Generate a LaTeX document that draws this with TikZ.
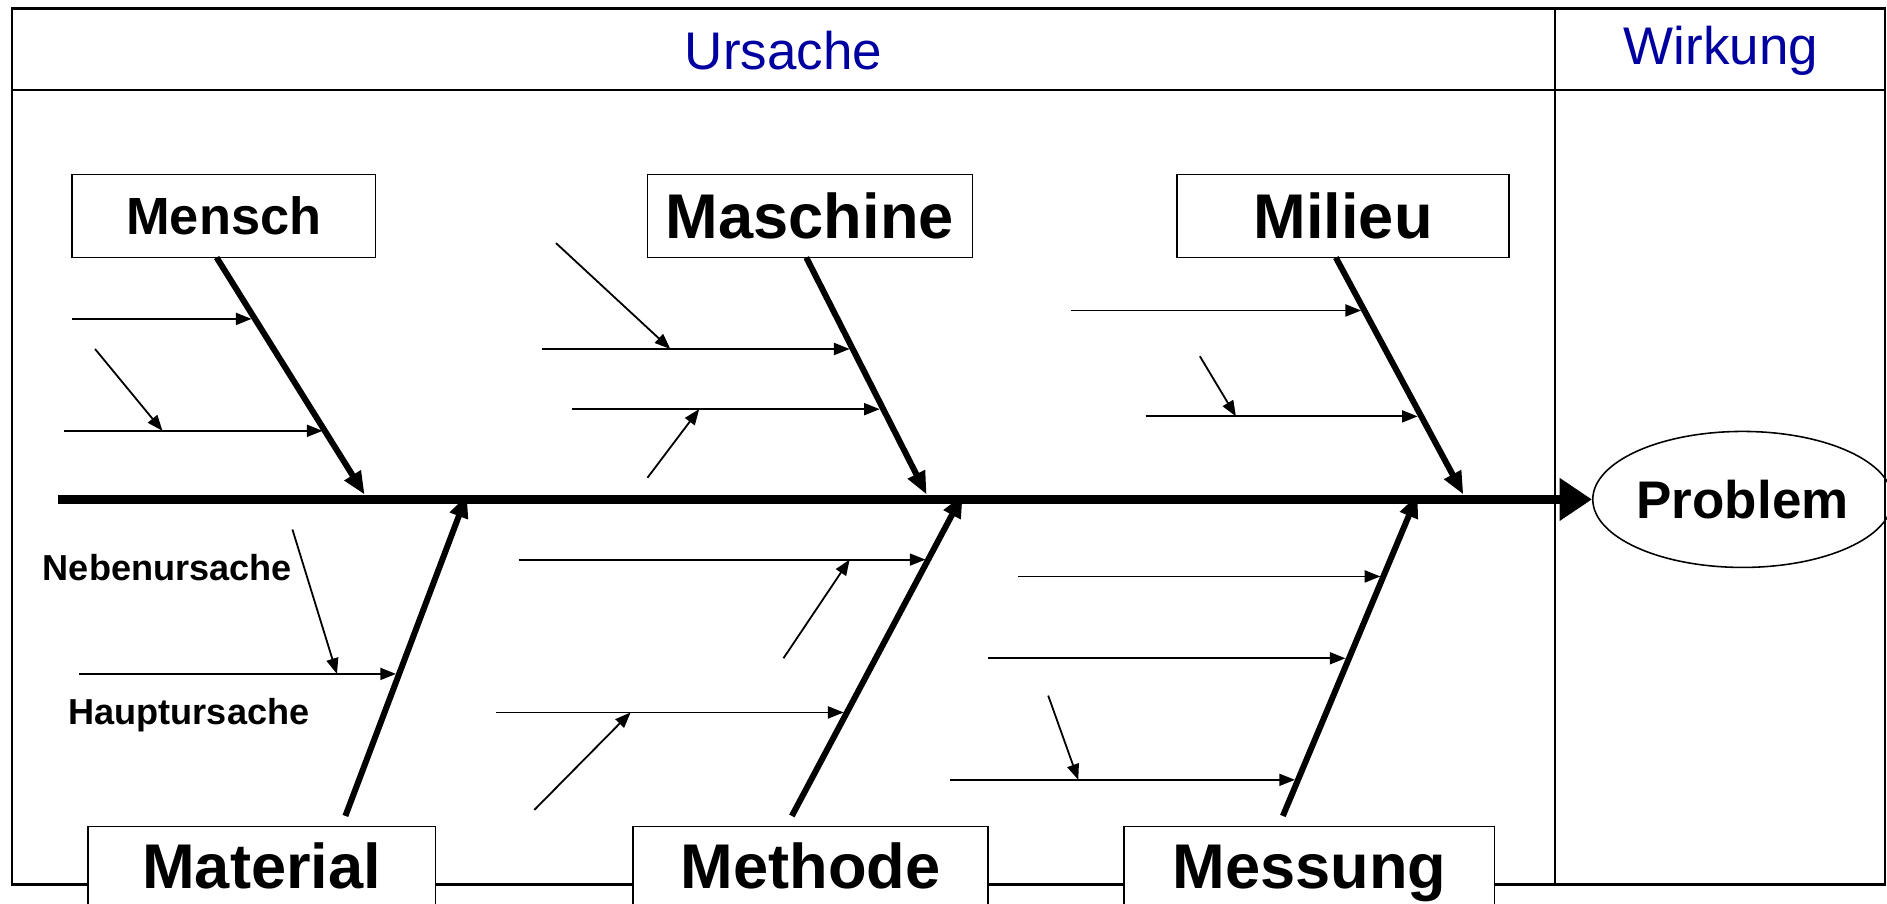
\documentclass[tikz,border=0pt]{standalone}
\usepackage{fontspec}
\setmainfont{Liberation Sans}
\usetikzlibrary{arrows.meta,shapes.geometric,calc}
\definecolor{ublue}{RGB}{0,0,160}
\begin{document}
\begin{tikzpicture}[x=1pt,y=-1pt,
  frame/.style={line width=1.8pt},
  topbox/.style={draw,line width=1.3pt,fill=white,inner sep=0pt,minimum height=69pt,font=\bfseries\fontsize{52.5}{60}\selectfont},
  botbox/.style={draw,line width=1.3pt,fill=white,inner sep=0pt,anchor=north,text height=52pt,text depth=26pt,font=\bfseries\fontsize{52.5}{60}\selectfont},
  spine/.style={line width=8pt,-{Triangle[length=27pt,width=34pt]}},
  bone/.style={line width=5pt,-{Triangle[length=19pt,width=15pt]}},
  sub/.style={line width=1.5pt,-{Triangle[length=13pt,width=10pt]}},
  head/.style={text=ublue,font=\fontsize{44}{50}\selectfont},
  note/.style={font=\bfseries\fontsize{30}{36}\selectfont},
]
\useasboundingbox (0,0) rectangle (1568,751);
\fill[white] (0,0) rectangle (1568,751);

% frame
\draw[frame] (10,7) rectangle (1566,735);
\draw[frame] (10,75) -- (1566,75);
\draw[frame] (1292,7) -- (1292,735);
\node[head] (urs) at (651,42) {Ursache};
\node[head] (wirk) at (1430,42) {Wirkung};

% problem + spine
\node[draw,ellipse,line width=1.3pt,minimum width=237pt,minimum height=113pt,inner sep=0pt,font=\bfseries\fontsize{44}{50}\selectfont] (prob) at (1448,415) {Problem};
\coordinate (sp0) at (48,415);
\draw[spine] (sp0) -- (prob.west);

% category boxes
\node[topbox,minimum width=252pt,font=\bfseries\fontsize{43.5}{50}\selectfont] (mensch) at (186,179.5) {Mensch};
\node[topbox,minimum width=270pt] (masch) at (673,179.5) {Maschine};
\node[topbox,minimum width=276pt] (milieu) at (1116,179.5) {Milieu};
\node[botbox,minimum width=289pt] (mat) at (217.5,686) {Material};
\node[botbox,minimum width=295pt] (meth) at (673.5,686) {Methode};
\node[botbox,minimum width=308pt] (mess) at (1088,686) {Messung};

% main bones
\coordinate (b1s) at (180,214); \coordinate (b1e) at (303,411);
\coordinate (b2s) at (670,214); \coordinate (b2e) at (770,411);
\coordinate (b3s) at (1110,214); \coordinate (b3e) at (1216,411);
\coordinate (b4s) at (287,678); \coordinate (b4e) at (388,411);
\coordinate (b5s) at (658,678); \coordinate (b5e) at (800,411);
\coordinate (b6s) at (1066,678); \coordinate (b6e) at (1178,411);
\draw[bone] (b1s) -- (b1e);
\draw[bone] (b2s) -- (b2e);
\draw[bone] (b3s) -- (b3e);
\draw[bone] (b4s) -- (b4e);
\draw[bone] (b5s) -- (b5e);
\draw[bone] (b6s) -- (b6e);

% Mensch sub causes
\coordinate (m1a) at (60,265); \coordinate (m1b) at (209,265);
\coordinate (m2a) at (53,358); \coordinate (m2b) at (268,358);
\coordinate (m3a) at (79,290); \coordinate (m3b) at (135,358);
\draw[sub] (m1a) -- (m1b);
\draw[sub] (m2a) -- (m2b);
\draw[sub] (m3a) -- (m3b);

% Maschine sub causes
\coordinate (a1a) at (450,290); \coordinate (a1b) at (706,290);
\coordinate (a2a) at (475,340); \coordinate (a2b) at (731,340);
\coordinate (a3a) at (462,202); \coordinate (a3b) at (557,290);
\coordinate (a4a) at (538,397); \coordinate (a4b) at (581,340);
\draw[sub] (a1a) -- (a1b);
\draw[sub] (a2a) -- (a2b);
\draw[sub] (a3a) -- (a3b);
\draw[sub] (a4a) -- (a4b);

% Milieu sub causes
\coordinate (l1a) at (890,258); \coordinate (l1b) at (1131,258);
\coordinate (l2a) at (952,346); \coordinate (l2b) at (1178,346);
\coordinate (l3a) at (997,296); \coordinate (l3b) at (1027,346);
\draw[sub] (l1a) -- (l1b);
\draw[sub] (l2a) -- (l2b);
\draw[sub] (l3a) -- (l3b);

% Material sub causes
\coordinate (t1a) at (66,560); \coordinate (t1b) at (329,560);
\coordinate (t2a) at (243,440); \coordinate (t2b) at (280,560);
\draw[sub] (t1a) -- (t1b);
\draw[sub] (t2a) -- (t2b);
\node[note] (neben) at (139,472) {Nebenursache};
\node[note] (haupt) at (157,594) {Hauptursache};

% Methode sub causes
\coordinate (e1a) at (431,465); \coordinate (e1b) at (769,465);
\coordinate (e2a) at (412,592); \coordinate (e2b) at (701,592);
\coordinate (e3a) at (651,547); \coordinate (e3b) at (706,465);
\coordinate (e4a) at (444,673); \coordinate (e4b) at (524,592);
\draw[sub] (e1a) -- (e1b);
\draw[sub] (e2a) -- (e2b);
\draw[sub] (e3a) -- (e3b);
\draw[sub] (e4a) -- (e4b);

% Messung sub causes
\coordinate (s1a) at (846,479); \coordinate (s1b) at (1147,479);
\coordinate (s2a) at (821,547); \coordinate (s2b) at (1118,547);
\coordinate (s3a) at (789,648); \coordinate (s3b) at (1076,648);
\coordinate (s4a) at (871,578); \coordinate (s4b) at (896,648);
\draw[sub] (s1a) -- (s1b);
\draw[sub] (s2a) -- (s2b);
\draw[sub] (s3a) -- (s3b);
\draw[sub] (s4a) -- (s4b);
\end{tikzpicture}
\end{document}
